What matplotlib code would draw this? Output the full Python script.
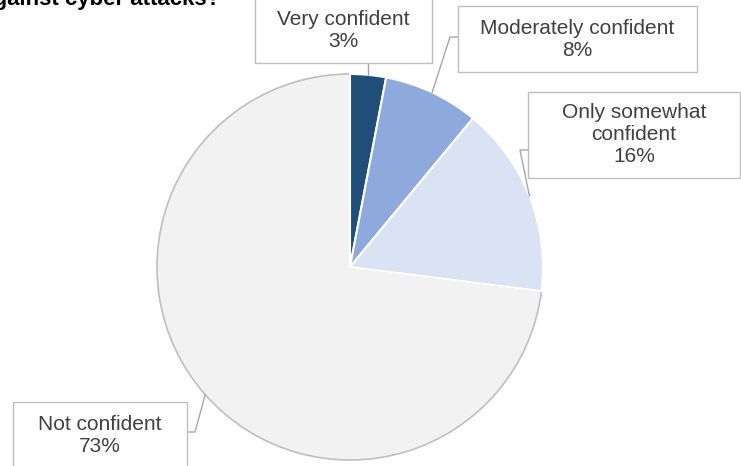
import numpy as np
import matplotlib
matplotlib.use("Agg")
import matplotlib.pyplot as plt
from matplotlib.patches import Rectangle

plt.rcParams['font.family'] = ['Liberation Sans', 'DejaVu Sans']

# данные
categories = ["Very confident", "Moderately confident", "Only somewhat\nconfident", "Not confident"]
shares = [3, 8, 16, 73]
colors = ["#1F4E79", "#8EA9DB", "#DAE3F3", "#F2F2F2"]

W, H = 741, 466
fig = plt.figure(figsize=(W / 100, H / 100), dpi=100)
ax = fig.add_axes([0, 0, 1, 1])

# центр и радиус пирога в пикселях (y снизу)
cx, cy, r = 350, H - 267, 193

wedges, _ = ax.pie(shares, colors=colors, startangle=90, counterclock=False,
                   center=(cx, cy), radius=r,
                   wedgeprops=dict(edgecolor='white', linewidth=1.5))
# серый контур у большого сектора
wedges[-1].set_edgecolor('#BFBFBF')
wedges[-1].set_linewidth(1.2)
wedges[-1].set_zorder(0)

ax.set_xlim(0, W)
ax.set_ylim(0, H)
ax.set_aspect('equal')
ax.axis('off')

# рамки подписей: (left, top, right, bottom) в пикселях сверху
boxes = [(255, -2, 432, 63), (458, 6, 697, 72), (528, 92, 740, 178), (13, 402, 187, 470)]
# точки излома выносок
elbows = [None, (450, 37, 458), (520, 150, 528), (195, 432, 187)]

text_col = '#404040'
line_col = '#A6A6A6'

total = sum(shares)
start = 90.0
for i, (lab, val) in enumerate(zip(categories, shares)):
    ang = start - val / total * 360 / 2
    start -= val / total * 360
    px = cx + r * np.cos(np.radians(ang))
    py = cy + r * np.sin(np.radians(ang))

    l, t, rr, b = boxes[i]
    ax.add_patch(Rectangle((l, H - b), rr - l, b - t, facecolor='white',
                           edgecolor='#BFBFBF', linewidth=1.0, zorder=3))
    ax.text((l + rr) / 2, H - (t + b) / 2, f"{lab}\n{val}%", ha='center', va='center',
            fontsize=15, color=text_col, linespacing=1.2, zorder=4)

    if elbows[i] is None:
        ax.plot([px, px], [py, H - b], color=line_col, lw=1, zorder=2)
    else:
        ex, ey, bx = elbows[i]
        ax.plot([px, ex, bx], [py, H - ey, H - ey], color=line_col, lw=1, zorder=2)

# заголовок, обрезанный сверху
fig.text(220 / W, 1 - 5 / H, "How confident are you that you could defend against cyber attacks?",
         ha='right', va='baseline', fontsize=16, fontweight='bold', color='black')

fig.savefig("out.png", dpi=100)
